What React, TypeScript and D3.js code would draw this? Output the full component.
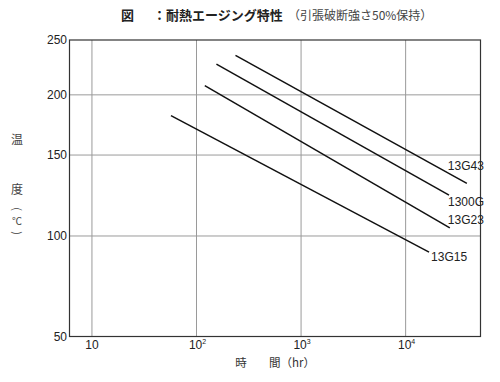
import React from "react";
import * as d3 from "d3";

const seriesNames = ["13G43", "1300G", "13G23", "13G15"];
// each series: [startHours, startTemp, endHours, endTemp]
const startHours = [236, 155, 120, 57];
const startTemp = [236, 228, 208.5, 182.7];
const endHours = [38500, 26000, 26450, 16750];
const endTemp = [132.5, 125.3, 105, 92];

const yTicks = [50, 100, 150, 200, 250];
const yGrid = [100, 150, 200];
const xTickExp = [1, 2, 3, 4];
const xDomain = [6.1, 52000];

const W = 500;
const H = 382;
const m = { left: 69.5, right: 480.5, top: 40, bottom: 336.5 };

// Temperature axis of the original paper is non-uniform (Arrhenius-style); fractions of plot height from bottom
const yFrac = [0, 0.339, 0.612, 0.815, 1];

export default function App() {
  const x = d3.scaleLog().domain(xDomain).range([m.left, m.right]);
  const ph = m.bottom - m.top;
  const y = d3
    .scaleLinear()
    .domain(yTicks)
    .range(yFrac.map((f) => m.bottom - f * ph));

  const line = d3
    .line<[number, number]>()
    .x((d) => x(d[0]))
    .y((d) => y(d[1]));

  const labelFont = "'Liberation Sans Narrow', 'Arial Narrow', 'Liberation Sans', sans-serif";
  const cjk = "'Noto Sans CJK JP', 'Noto Sans', sans-serif";

  const labelOffsets: [number, number][] = [
    [-19, -18],
    [-1, 7],
    [-2, -8],
    [2, 5],
  ];

  return (
    <svg width={W} height={H} style={{ position: "absolute", left: 0, top: 0, background: "#fff" }}>
      <rect x={0} y={0} width={W} height={H} fill="#fff" />
      {/* title */}
      <text x={121} y={20} fontFamily={cjk} fontSize={13} fontWeight={700} fill="#222">図</text>
      <text x={153} y={20} fontFamily={cjk} fontSize={13} fontWeight={700} fill="#222">：耐熱エージング特性</text>
      <text x={288} y={20} fontFamily={cjk} fontSize={12} fill="#444">（引張破断強さ50%保持）</text>

      {/* grid */}
      {xTickExp.map((e) => (
        <line key={"gx" + e} x1={x(Math.pow(10, e))} x2={x(Math.pow(10, e))} y1={m.top} y2={m.bottom} stroke="#9a9a9a" strokeWidth={1} />
      ))}
      {yGrid.map((t) => (
        <line key={"gy" + t} x1={m.left} x2={m.right} y1={y(t)} y2={y(t)} stroke="#9a9a9a" strokeWidth={1} />
      ))}
      <rect x={m.left} y={m.top} width={m.right - m.left} height={m.bottom - m.top} fill="none" stroke="#333" strokeWidth={1.2} />

      {/* y tick labels */}
      {yTicks.map((t) => (
        <text key={"yt" + t} x={67} y={y(t)} dy="0.36em" textAnchor="end" fontFamily="'Liberation Sans', Arial, sans-serif" fontSize={12} fill="#222">
          {t}
        </text>
      ))}

      {/* x tick labels */}
      {xTickExp.map((e) => (
        <text key={"xt" + e} x={x(Math.pow(10, e)) + (e === 1 ? 0 : 1)} y={348.5} textAnchor="middle" fontFamily="'Liberation Sans', Arial, sans-serif" fontSize={12} fill="#222">
          10
          {e > 1 ? (
            <tspan fontSize={7} dy={-5}>
              {e}
            </tspan>
          ) : null}
        </text>
      ))}

      {/* axis titles */}
      <text x={17} y={140} dy="0.36em" textAnchor="middle" fontFamily={cjk} fontSize={12} fill="#444">温</text>
      <text x={17} y={190} dy="0.36em" textAnchor="middle" fontFamily={cjk} fontSize={12} fill="#444">度</text>
      <text x={0} y={0} dy="0.36em" textAnchor="middle" transform="translate(17,209) rotate(90)" fontFamily={cjk} fontSize={11} fill="#444">(</text>
      <text x={17} y={221} dy="0.36em" textAnchor="middle" fontFamily={cjk} fontSize={10} fill="#444">℃</text>
      <text x={0} y={0} dy="0.36em" textAnchor="middle" transform="translate(17,233) rotate(90)" fontFamily={cjk} fontSize={11} fill="#444">)</text>
      <text x={241} y={367} textAnchor="middle" fontFamily={cjk} fontSize={11.5} fill="#333">時</text>
      <text x={269} y={367} fontFamily={cjk} fontSize={11.5} fill="#333">間（hr）</text>

      {/* series lines */}
      {seriesNames.map((name, i) => {
        const pts: [number, number][] = [
          [startHours[i], startTemp[i]],
          [endHours[i], endTemp[i]],
        ];
        const ex = x(endHours[i]);
        const ey = y(endTemp[i]);
        return (
          <g key={name}>
            <path d={line(pts) || ""} fill="none" stroke="#111" strokeWidth={1.5} />
            <text x={ex + labelOffsets[i][0]} y={ey + labelOffsets[i][1]} dy="0.36em" fontFamily={labelFont} fontSize={12} fill="#222">
              {name}
            </text>
          </g>
        );
      })}
    </svg>
  );
}
